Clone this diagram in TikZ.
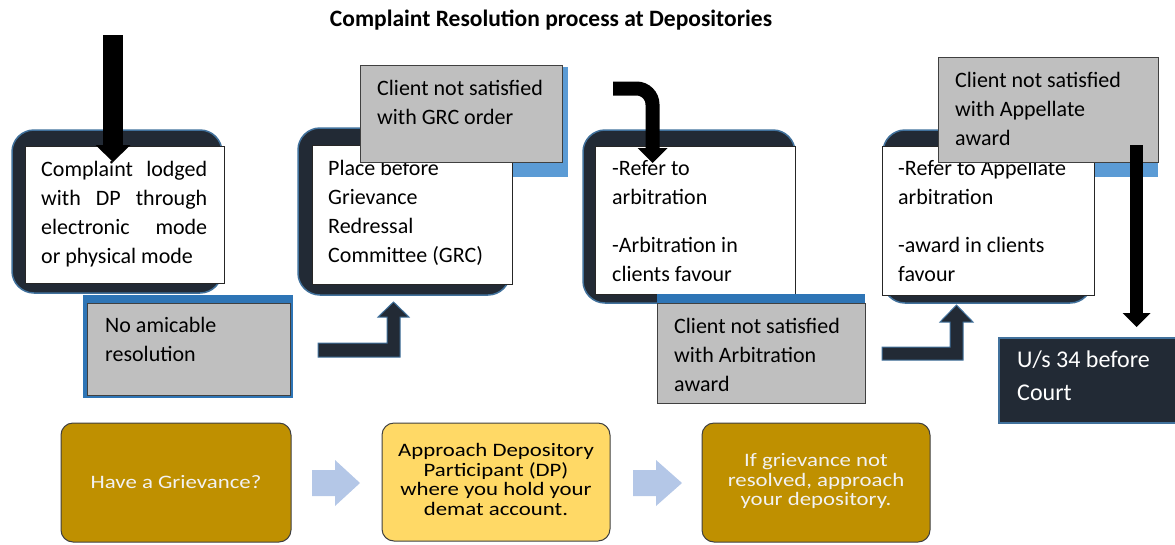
\documentclass[tikz,border=0pt]{standalone}
\usepackage{fontspec}
\setmainfont{Carlito}
\usepackage{graphicx}
\usetikzlibrary{arrows.meta}
\definecolor{navy}{HTML}{222A35}
\definecolor{edgeblue}{HTML}{41719C}
\definecolor{lblue}{HTML}{5B9BD5}
\definecolor{mblue}{HTML}{2E75B6}
\definecolor{grayfill}{HTML}{BFBFBF}
\definecolor{grayedge}{HTML}{404040}
\definecolor{gold}{HTML}{BF9000}
\definecolor{lgold}{HTML}{FFD966}
\definecolor{arrowblue}{HTML}{B4C7E7}
\definecolor{softwhite}{HTML}{F2F2F2}
\newcommand\fst{\rule{0pt}{20pt}}
\newcommand\jline[1]{\hbox to 166pt{#1}}
\begin{document}
\begin{tikzpicture}[x=1pt,y=-1pt,
  panel/.style={draw=edgeblue, line width=1.5pt, fill=navy, rounded corners=22pt, anchor=north west, inner sep=0pt, outer sep=0pt},
  wbox/.style={draw=black!85, line width=0.8pt, fill=white, anchor=north west, inner sep=0pt, outer sep=0pt},
  gbox/.style={draw=grayedge, line width=1pt, fill=grayfill, anchor=north west, inner sep=0pt, outer sep=0pt},
  bbox/.style={draw=none, anchor=north west, inner sep=0pt, outer sep=0pt},
  txt/.style={anchor=north west, inner sep=0pt, align=left, font=\fontsize{22}{29}\selectfont, text=black},
  blackarrow/.style={draw=black, line cap=butt},
  bentarrow/.style={fill=navy, draw=edgeblue, line width=1pt},
  flowbox/.style={draw=grayedge, line width=1pt, rounded corners=12pt, anchor=north west, inner sep=0pt, outer sep=0pt, align=center, font=\fontsize{19}{19.5}\selectfont},
  flowarrow/.style={fill=arrowblue, draw=none}
]
\useasboundingbox (0,0) rectangle (1175,544);

% title
\node[font=\fontsize{23.5}{27}\selectfont\bfseries] (title) at (551,20) {Complaint Resolution process at Depositories};

% panel 1
\node[panel, minimum width=210, minimum height=163] (p1) at (12,130) {};
\node[wbox, minimum width=199, minimum height=137] (w1) at (25,146) {};
\node[txt] (t1) at (41,156) {\fst\jline{Complaint\hfill lodged}\\\jline{with\hfill DP\hfill through}\\\jline{electronic\hfill mode}\\or physical mode};

% panel 2
\node[panel, minimum width=212, minimum height=167] (p2) at (298,128) {};
\node[bbox, fill=lblue, minimum width=203, minimum height=110] (b2) at (365,67) {};
\node[wbox, minimum width=200, minimum height=139] (w2) at (312,145) {};
\node[txt] (t2) at (328,155) {\fst Place before\\Grievance\\Redressal\\Committee (GRC)};
\node[gbox, minimum width=202, minimum height=97] (g2) at (360,65) {};
\node[txt] (tg2) at (377,75) {\fst Client not satisfied\\with GRC order};

% panel 3
\node[panel, minimum width=212, minimum height=173] (p3) at (583,130) {};
\node[wbox, minimum width=200, minimum height=148] (w3) at (595,146) {};
\node[txt] (t3) at (612,155) {\fst -Refer to\\arbitration\\[19pt]-Arbitration in\\clients favour};

% panel 4
\node[panel, minimum width=209, minimum height=173] (p4) at (883,130) {};
\node[bbox, fill=lblue, minimum width=213, minimum height=117] (b4) at (945,60) {};
\node[wbox, minimum width=212, minimum height=149] (w4) at (882,146) {};
\node[txt] (t4) at (898,155) {\fst -Refer to Appellate\\arbitration\\[19pt]-award in clients\\favour};
\node[gbox, minimum width=220, minimum height=105] (g4) at (938,57) {};
\node[txt] (tg4) at (955,67) {\fst Client not satisfied\\with Appellate\\award};

% no amicable resolution
\node[bbox, fill=mblue, minimum width=210, minimum height=103] (b1) at (83,295) {};
\node[gbox, minimum width=203, minimum height=92] (g1) at (87,303) {};
\node[txt] (tg1) at (105,312) {\fst No amicable\\resolution};

% arbitration award
\node[bbox, fill=mblue, minimum width=208, minimum height=100] (b3) at (657,294) {};
\node[gbox, minimum width=208, minimum height=100] (g3) at (657,303) {};
\node[txt] (tg3) at (674,313) {\fst Client not satisfied\\with Arbitration\\award};

% court
\node[anchor=north west, draw=edgeblue, line width=2pt, fill=navy, inner sep=0pt, minimum width=177, minimum height=85] (court) at (998,337) {};
\node[anchor=north west, inner sep=0pt, align=left, text=white, font=\fontsize{24}{33}\selectfont] (tcourt) at (1017,347) {\fst U/s 34 before\\Court};

% black arrows
\coordinate (a1s) at (113,35);
\coordinate (a1e) at (113,162);
\draw[blackarrow, line width=20pt, -{Triangle[length=17pt,width=35pt,line width=0pt]}] (a1s) -- (a1e);
\coordinate (a3s) at (613,88.5);
\coordinate (a3e) at (652.5,163);
\draw[blackarrow, line width=14pt, rounded corners=16pt, -{Triangle[length=15pt,width=30pt,line width=0pt]}] (a3s) -| (a3e);
\coordinate (a4s) at (1136.5,145);
\coordinate (a4e) at (1136.5,327);
\draw[blackarrow, line width=13pt, -{Triangle[length=14pt,width=28pt,line width=0pt]}] (a4s) -- (a4e);

% bent dark arrows
\draw[bentarrow] (318,343) -- (387,343) -- (387,317) -- (378,317) -- (393.5,302) -- (409,317) -- (400,317) -- (400,357) -- (318,357) -- cycle;
\draw[bentarrow] (882,347) -- (950,347) -- (950,322) -- (940,322) -- (956.5,305) -- (973,322) -- (963,322) -- (963,360) -- (882,360) -- cycle;

% bottom flow
\node[flowbox, fill=gold, text=softwhite, minimum width=230, minimum height=119] (fa) at (61,423) {\scalebox{1.2}[1]{Have a Grievance?}};
\node[flowbox, fill=lgold, text=black, minimum width=228, minimum height=118] (fb) at (382,423) {\scalebox{1.2}[1]{\begin{tabular}{@{}c@{}}Approach Depository\\Participant (DP)\\where you hold your\\demat account.\end{tabular}}};
\node[flowbox, fill=gold, text=softwhite, minimum width=228, minimum height=119] (fc) at (702,423) {\scalebox{1.2}[1]{\begin{tabular}{@{}c@{}}If grievance not\\resolved, approach\\your depository.\end{tabular}}};
\fill[flowarrow] (312,470) -- (335,470) -- (335,460) -- (360,483) -- (335,506) -- (335,496) -- (312,496) -- cycle;
\fill[flowarrow] (633,470) -- (656,470) -- (656,460) -- (682,483) -- (656,506) -- (656,496) -- (633,496) -- cycle;
\end{tikzpicture}
\end{document}
